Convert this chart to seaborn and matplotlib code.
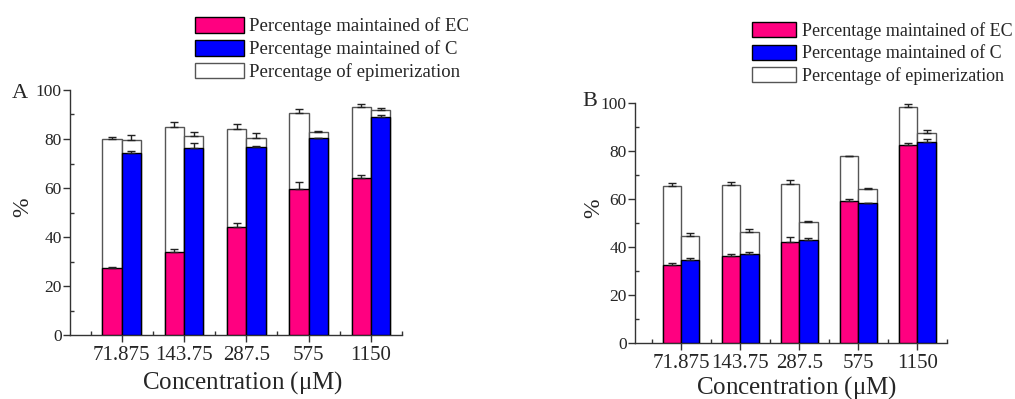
import numpy as np
import pandas as pd
import matplotlib
matplotlib.use("Agg")
import matplotlib.pyplot as plt
from matplotlib.patches import Patch
from matplotlib.ticker import MultipleLocator, FixedLocator
from matplotlib.container import BarContainer
import seaborn as sns

# ---------------- data ----------------
concentrations = ["71.875", "143.75", "287.5", "575", "1150"]

# Panel A
a_ec_base = [27.2, 34.0, 43.9, 59.5, 63.9]
a_ec_base_err = [0.7, 1.1, 1.7, 3.1, 1.4]
a_ec_total = [79.9, 84.9, 83.9, 90.5, 92.9]
a_ec_total_err = [1.1, 1.9, 2.1, 1.9, 1.2]
a_c_base = [74.4, 76.3, 76.6, 80.3, 89.1]
a_c_base_err = [0.8, 1.9, 0.5, 0.2, 0.8]
a_c_total = [79.6, 81.1, 80.5, 83.0, 91.7]
a_c_total_err = [1.9, 1.9, 2.1, 0.2, 1.0]

# Panel B
b_ec_base = [32.5, 36.4, 42.2, 59.0, 82.7]
b_ec_base_err = [0.7, 0.6, 2.1, 0.8, 0.8]
b_ec_total = [65.5, 65.7, 66.3, 78.0, 98.5]
b_ec_total_err = [1.3, 1.3, 1.7, 0.0, 1.2]
b_c_base = [34.5, 37.0, 42.8, 58.2, 83.9]
b_c_base_err = [0.8, 0.8, 1.1, 0.2, 1.1]
b_c_total = [44.7, 46.1, 50.3, 64.3, 87.5]
b_c_total_err = [1.0, 1.3, 0.7, 0.4, 1.4]

legend_labels = ["Percentage maintained of EC",
                 "Percentage maintained of C",
                 "Percentage of epimerization"]
series = ["EC", "C"]

PINK = "#FF0080"
BLUE = "#0000FF"
EDGE_W = "#555555"

sns.set_style("ticks")
plt.rcParams["font.family"] = ["Liberation Serif", "DejaVu Serif"]
plt.rcParams["mathtext.fontset"] = "stix"

fig = plt.figure(figsize=(10.15, 3.99), dpi=100)


def make_df(ec_base, ec_base_err, ec_total, ec_total_err,
            c_base, c_base_err, c_total, c_total_err):
    rows = []
    for i, c in enumerate(concentrations):
        rows.append(dict(conc=c, series="EC", base=ec_base[i], base_err=ec_base_err[i],
                         total=ec_total[i], total_err=ec_total_err[i]))
        rows.append(dict(conc=c, series="C", base=c_base[i], base_err=c_base_err[i],
                         total=c_total[i], total_err=c_total_err[i]))
    return pd.DataFrame(rows)


def draw_panel(ax, df, letter, xlim_left, letter_xy, ylab_xy, xlab_xy, tick_fs):
    sns.barplot(data=df, x="conc", y="total", hue="series", order=concentrations,
                hue_order=series, palette=["white", "white"], width=0.62, gap=0,
                errorbar=None, edgecolor=EDGE_W, linewidth=1.0, legend=False,
                ax=ax, zorder=2)
    sns.barplot(data=df, x="conc", y="base", hue="series", order=concentrations,
                hue_order=series, palette=[PINK, BLUE], width=0.62, gap=0,
                saturation=1, errorbar=None, edgecolor="black", linewidth=1.0,
                legend=False, ax=ax, zorder=3)

    bar_conts = [c for c in ax.containers if isinstance(c, BarContainer)]
    # error bars (upper half only), positioned on the bars drawn by seaborn
    for cont_idx, cont in enumerate(bar_conts):
        is_total = cont_idx < 2
        s = series[cont_idx % 2]
        sub = df[df.series == s].set_index("conc").loc[concentrations]
        vals = sub["total"] if is_total else sub["base"]
        errs = sub["total_err"] if is_total else sub["base_err"]
        xs = [p.get_x() + p.get_width() / 2 for p in cont.patches]
        ax.errorbar(xs, vals.values, yerr=[np.zeros(len(errs)), errs.values],
                    fmt="none", ecolor="#222222", elinewidth=1.0, capsize=3,
                    capthick=1.0, zorder=4)

    ax.set_ylim(0, 100)
    ax.set_xlim(xlim_left, 4.5)
    ax.yaxis.set_major_locator(MultipleLocator(20))
    ax.yaxis.set_minor_locator(MultipleLocator(10))
    ax.xaxis.set_minor_locator(FixedLocator(np.arange(-0.5, 4.51, 1.0)))
    ax.tick_params(axis="both", which="major", direction="out", length=5,
                   width=1.0, color="#333333")
    ax.tick_params(axis="both", which="minor", direction="in", length=3,
                   width=1.0, color="#333333")
    ax.tick_params(axis="y", which="major", labelsize=12.5, pad=1)
    ax.tick_params(axis="x", which="major", labelsize=tick_fs, pad=3)
    for sp in ["top", "right"]:
        ax.spines[sp].set_visible(False)
    for sp in ["left", "bottom"]:
        ax.spines[sp].set_color("#333333")
        ax.spines[sp].set_linewidth(1.0)

    ax.set_ylabel("%", fontsize=17)
    ax.yaxis.set_label_coords(*ylab_xy)
    ax.set_xlabel("Concentration ($\\mathregular{\\mu}$M)", fontsize=18)
    ax.xaxis.set_label_coords(*xlab_xy)
    ax.text(letter_xy[0], letter_xy[1], letter, transform=fig.transFigure,
            fontsize=16, ha="left", va="center")


# Panel A
axA = fig.add_axes([70 / 1015, 1 - 335 / 399, 332 / 1015, 245 / 399])
dfA = make_df(a_ec_base, a_ec_base_err, a_ec_total, a_ec_total_err,
              a_c_base, a_c_base_err, a_c_total, a_c_total_err)
draw_panel(axA, dfA, "A", -0.83, (12 / 1015, 1 - 93 / 399),
           (-0.11, 0.52), (0.521, -0.14), 15)

# Panel B
axB = fig.add_axes([635 / 1015, 1 - 343 / 399, 312 / 1015, 240 / 399])
dfB = make_df(b_ec_base, b_ec_base_err, b_ec_total, b_ec_total_err,
              b_c_base, b_c_base_err, b_c_total, b_c_total_err)
draw_panel(axB, dfB, "B", -0.78, (582 / 1015, 1 - 101 / 399),
           (-0.10, 0.56), (0.519, -0.128), 15)


def add_legend(anchor, fs, hl):
    handles = [Patch(facecolor=PINK, edgecolor="black", linewidth=1.0),
               Patch(facecolor=BLUE, edgecolor="black", linewidth=1.0),
               Patch(facecolor="white", edgecolor=EDGE_W, linewidth=1.0)]
    leg = fig.legend(handles, legend_labels, loc="upper left",
                     bbox_to_anchor=anchor, bbox_transform=fig.transFigure,
                     frameon=False, fontsize=fs, handlelength=hl,
                     handleheight=0.9, handletextpad=0.3, labelspacing=0.25,
                     borderpad=0, borderaxespad=0)
    return leg


add_legend((195 / 1015, 1 - 17 / 399), 13.5, 2.6)
add_legend((752 / 1015, 1 - 22 / 399), 13, 2.45)

fig.savefig("out.png", dpi=100)
